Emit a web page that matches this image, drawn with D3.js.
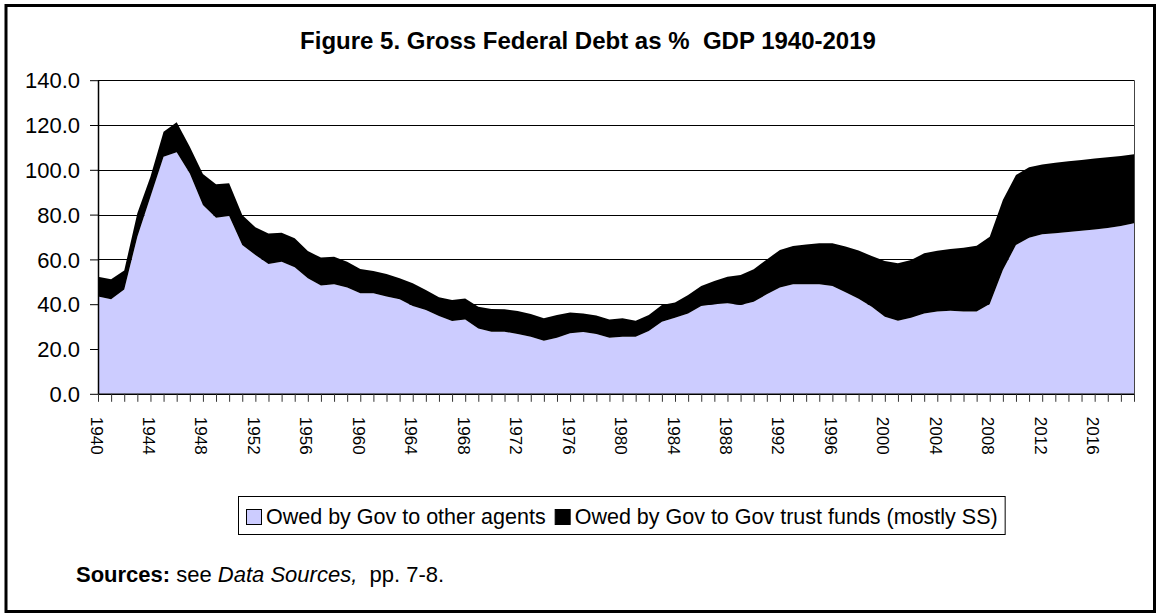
<!DOCTYPE html>
<html>
<head>
<meta charset="utf-8">
<script src="https://cdn.jsdelivr.net/npm/d3@7"></script>
<style>
  html, body { margin: 0; padding: 0; background: #fff; }
  svg { display: block; }
  text { font-family: Arial, "Liberation Sans", sans-serif; }
</style>
</head>
<body>
<svg id="chart" width="1161" height="615"></svg>
<script>
// ---- data ----
const years = d3.range(1940, 2020);
const otherAgents = [
  43.4, 42.2, 46.6, 70.1, 88.0, 105.8, 107.8, 98.4, 84.3, 78.6,
  79.4, 66.4, 62.0, 57.9, 59.0, 56.5, 51.6, 48.4, 48.9, 47.4,
  44.9, 44.9, 43.4, 42.2, 39.2, 37.4, 34.7, 32.5, 33.2, 29.2,
  27.7, 27.7, 26.7, 25.5, 23.7, 25.0, 27.0, 27.6, 26.7, 25.0,
  25.5, 25.5, 28.0, 32.2, 34.0, 35.9, 39.2, 40.0, 40.4, 39.6,
  41.1, 44.4, 47.4, 48.9, 48.9, 48.9, 48.1, 45.3, 42.4, 38.9,
  34.4, 32.6, 34.0, 35.9, 36.7, 37.1, 36.7, 36.7, 40.1, 55.3,
  66.4, 69.7, 71.2, 71.7, 72.2, 72.8, 73.4, 74.0, 74.9, 76.1
];
const trustFunds = [
  8.9, 8.9, 8.4, 10.5, 8.9, 11.2, 13.4, 11.9, 13.8, 14.9,
  14.6, 13.4, 12.3, 13.7, 12.9, 12.9, 12.1, 12.4, 12.3, 11.6,
  10.8, 9.9, 10.1, 9.4, 10.1, 8.9, 8.4, 9.4, 9.4, 9.7,
  10.2, 10.0, 10.3, 10.1, 10.0, 10.2, 9.3, 8.3, 8.2, 8.2,
  8.2, 7.1, 7.2, 7.4, 6.8, 8.2, 8.9, 10.4, 11.9, 13.4,
  14.5, 15.6, 16.8, 17.1, 17.7, 18.3, 19.1, 20.5, 21.6, 22.6,
  24.9, 25.7, 25.7, 26.8, 27.2, 27.5, 28.5, 29.4, 30.0, 31.2,
  31.3, 31.4, 31.2, 31.5, 31.6, 31.6, 31.6, 31.6, 31.3, 30.8
];
const seriesNames = ["Owed by Gov to other agents", "Owed by Gov to Gov trust funds (mostly SS)"];
const seriesColors = ["#ccccff", "#000000"];
const yTicks = [0, 20, 40, 60, 80, 100, 120, 140];
const xLabelYears = d3.range(1940, 2020, 4);
const titleText = "Figure 5. Gross Federal Debt as %\u00A0 GDP 1940-2019";

// ---- layout ----
const svg = d3.select("#chart");
const plot = { left: 98, right: 1134, top: 80.2, bottom: 393.8 };

// outer frame
svg.append("rect")
  .attr("x", 6).attr("y", 5.5).attr("width", 1148.5).attr("height", 606)
  .attr("fill", "#fff").attr("stroke", "#000").attr("stroke-width", 3);

// title
svg.append("text")
  .attr("x", 588).attr("y", 48.5)
  .attr("text-anchor", "middle")
  .attr("font-weight", "bold").attr("font-size", 24)
  .text(titleText);

// scales
const x = d3.scalePoint().domain(years).range([plot.left, plot.right]).padding(0);
const y = d3.scaleLinear().domain([0, 140]).range([plot.bottom, plot.top]);

// stacked data
const table = years.map((yr, i) => ({ year: yr, a: otherAgents[i], b: trustFunds[i] }));
const stacked = d3.stack().keys(["a", "b"])(table);

const area = d3.area()
  .x(d => x(d.data.year))
  .y0(d => y(d[0]))
  .y1(d => y(d[1]));

// gridlines
svg.append("g").selectAll("line")
  .data(yTicks.filter(t => t > 0))
  .join("line")
  .attr("x1", plot.left).attr("x2", plot.right)
  .attr("y1", d => Math.round(y(d)) + 0.5).attr("y2", d => Math.round(y(d)) + 0.5)
  .attr("stroke", "#000").attr("stroke-width", 1);

// areas
svg.append("g").selectAll("path")
  .data(stacked)
  .join("path")
  .attr("d", area)
  .attr("fill", (d, i) => seriesColors[i]);

// right plot border
svg.append("line")
  .attr("x1", plot.right + 0.5).attr("x2", plot.right + 0.5)
  .attr("y1", plot.top).attr("y2", plot.bottom)
  .attr("stroke", "#444").attr("stroke-width", 1);

// y axis
const yAxis = svg.append("g")
  .attr("transform", `translate(${plot.left},0)`)
  .call(d3.axisLeft(y).tickValues(yTicks).tickFormat(d3.format(".1f")).tickSize(8).tickSizeOuter(0));
yAxis.select(".domain").attr("stroke", "#000").attr("stroke-width", 1.5);
yAxis.selectAll(".tick line").attr("stroke", "#000");
yAxis.selectAll(".tick text")
  .attr("x", -18).attr("dy", "0.35em")
  .attr("font-size", 22).attr("fill", "#000")
  .style("font-family", "Arial, 'Liberation Sans', sans-serif");

// x axis
const xAxis = svg.append("g")
  .attr("transform", `translate(0,${plot.bottom})`)
  .call(d3.axisBottom(x).tickValues(years)
    .tickFormat(d => xLabelYears.includes(d) ? String(d) : "")
    .tickSize(8).tickSizeOuter(0));
xAxis.select(".domain").attr("stroke", "#000").attr("stroke-width", 1.5);
xAxis.selectAll(".tick line").attr("stroke", "#333");
xAxis.selectAll(".tick text")
  .attr("transform", "rotate(90)")
  .attr("x", 23).attr("y", 2).attr("dy", "0.35em")
  .attr("text-anchor", "start")
  .attr("font-size", 17).attr("fill", "#000")
  .style("font-family", "Arial, 'Liberation Sans', sans-serif");

// legend
const legend = svg.append("g");
const legendBox = legend.append("rect")
  .attr("x", 238.5).attr("y", 496.5).attr("height", 38)
  .attr("fill", "#fff").attr("stroke", "#000").attr("stroke-width", 1);
let lx = 246;
seriesNames.forEach((name, i) => {
  legend.append("rect")
    .attr("x", lx + 0.5).attr("y", 509.5).attr("width", 15).attr("height", 15)
    .attr("fill", seriesColors[i]).attr("stroke", "#000").attr("stroke-width", 1);
  const t = legend.append("text")
    .attr("x", lx + 20).attr("y", 524)
    .attr("font-size", 21.5)
    .text(name);
  lx = lx + 20 + t.node().getComputedTextLength() + 9;
});
legendBox.attr("width", lx - 238 - 2);

// sources note
const src = svg.append("text").attr("x", 76).attr("y", 582).attr("font-size", 22);
src.append("tspan").attr("font-weight", "bold").text("Sources:");
src.append("tspan").text(" see ");
src.append("tspan").attr("font-style", "italic").text("Data Sources,");
src.append("tspan").text("\u00A0 pp. 7-8.");
</script>
</body>
</html>
